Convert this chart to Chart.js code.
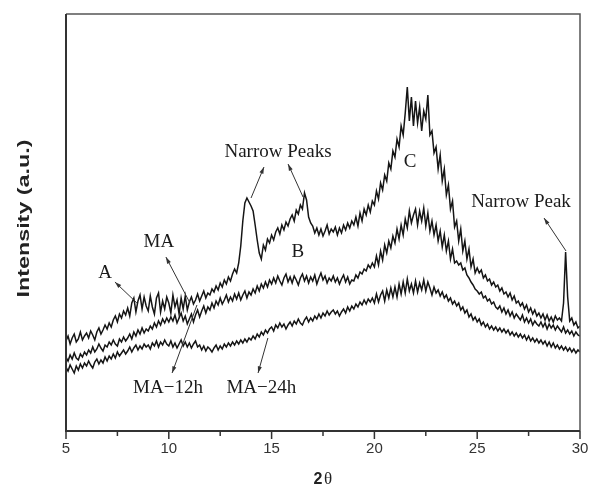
<!DOCTYPE html>
<html>
<head>
<meta charset="utf-8">
<script src="https://cdn.jsdelivr.net/npm/chart.js@4.4.0/dist/chart.umd.min.js"></script>
<style>
  body { margin: 0; background: #fff; }
  .chart-container { width: 590px; height: 489px; position: relative; }
</style>
</head>
<body>
<div class="chart-container"><canvas id="xrd-chart"></canvas></div>
<script>
// 2-theta sampling (5 to 30, step 0.1)
const thetaStart = 5;
const thetaStep = 0.1;

// Intensity (a.u.), one row per degree
const seriesTop = [
  90, 95, 87, 93, 97, 89, 92, 99, 91, 95,
  98, 93, 100, 96, 91, 99, 103, 97, 101, 106,
  102, 108, 104, 111, 115, 109, 117, 113, 120, 116,
  123, 115, 128, 133, 119, 130, 136, 122, 134, 125,
  120, 135, 124, 117, 133, 138, 119, 130, 122, 134,
  128, 118, 136, 124, 131, 117, 133, 122, 135, 121,
  129, 134, 127, 131, 137, 130, 135, 140, 133, 138,
  136, 142, 139, 145, 141, 148, 144, 151, 147, 154,
  150, 157, 162, 158, 168, 185, 210, 228, 233, 229,
  225, 220, 206, 191, 178, 172, 186, 181, 192, 188,
  196, 191, 199, 203, 197, 206, 201, 209, 205, 212,
  216, 210, 221, 217, 226, 222, 238, 231, 214, 208,
  205, 198, 203, 196, 202, 195, 200, 206, 197, 202,
  199, 204, 196, 203, 198, 206, 201, 208, 203, 210,
  206, 214, 205, 218, 210, 222, 216, 226, 219, 230,
  226, 240, 232, 248, 241, 256, 250, 268, 262, 280,
  274, 292, 284, 305, 296, 318, 344, 310, 334, 305,
  330, 308, 324, 300, 320, 312, 336, 296, 300, 278,
  284, 262, 276, 250, 262, 236, 246, 222, 230, 204,
  210, 190, 202, 180, 190, 172, 182, 164, 172, 158,
  163, 158, 161, 153, 156, 150, 152, 146, 149, 144,
  146, 140, 143, 137, 139, 134, 138, 131, 135, 128,
  130, 125, 128, 122, 126, 119, 123, 117, 121, 115,
  118, 113, 117, 111, 116, 110, 114, 109, 115, 111,
  113, 110, 128, 179, 134, 110, 113, 106, 109, 103,
  105
];

const seriesMid = [
  74, 70, 76, 72, 78, 73, 71, 77, 74, 79,
  76, 81, 78, 84, 79, 82, 87, 83, 80, 86,
  84, 89, 86, 91, 87, 85, 92, 89, 94, 90,
  93, 97, 92, 99, 95, 101, 97, 103, 98, 102,
  100, 105, 102, 108, 104, 110, 106, 112, 108, 113,
  109, 114, 110, 116, 108, 113, 118, 110, 115, 107,
  112, 117, 109, 116, 121, 114, 120, 125, 118, 124,
  121, 128, 123, 130, 126, 133, 127, 131, 136, 129,
  134, 130, 137, 132, 138, 131, 136, 140, 133, 139,
  136, 142, 138, 145, 140, 147, 143, 149, 144, 151,
  147, 153, 148, 155, 150, 146, 153, 157, 149, 154,
  148, 155, 151, 146, 153, 157, 150, 155, 148, 154,
  150, 156, 147, 153, 158, 151, 155, 148, 153, 150,
  155, 149, 153, 147, 152, 156, 149, 154, 147, 151,
  150, 156, 153, 159, 157, 162, 160, 166, 163, 168,
  164, 175, 166, 180, 171, 186, 178, 190, 183, 195,
  188, 202, 192, 206, 196, 212, 203, 220, 208, 216,
  222, 206, 220, 210, 223, 205, 218, 200, 210, 196,
  206, 190, 200, 184, 196, 180, 190, 172, 182, 168,
  170, 166, 168, 161, 163, 156, 153, 149, 146, 142,
  140, 137, 139, 133, 135, 130, 132, 127, 129, 124,
  122, 125, 119, 123, 117, 121, 115, 119, 113, 117,
  114, 111, 116, 109, 113, 108, 112, 106, 110, 107,
  105, 109, 104, 108, 102, 107, 103, 106, 101, 105,
  102, 99, 104, 98, 101, 97, 100, 95, 99, 96,
  95
];

const seriesLow = [
  64, 60, 66, 62, 58, 65, 61, 67, 63, 68,
  65, 70, 66, 63, 69, 72, 67, 71, 68, 74,
  70, 75, 72, 77, 73, 79, 75, 78, 81, 77,
  80, 84, 79, 83, 86, 81, 85, 82, 87, 84,
  86, 82, 88, 85, 90, 84, 89, 86, 91, 87,
  85, 90, 84, 88, 83, 87, 91, 85, 89, 84,
  88, 83, 87, 90, 84, 86, 81, 85, 80, 84,
  82, 79, 83, 86, 81, 85, 82, 87, 84, 88,
  85, 89, 86, 90, 87, 91, 88, 92, 89, 93,
  91, 95, 92, 97, 94, 99, 96, 101, 98, 102,
  104, 100, 106, 103, 108, 104, 107, 102, 106, 109,
  105, 110, 107, 112, 108, 106, 111, 114, 109, 113,
  110, 115, 112, 117, 113, 118, 115, 120, 116, 119,
  121, 117, 120, 115, 119, 122, 118, 124, 120, 125,
  122, 127, 124, 129, 126, 131, 127, 132, 129, 133,
  128, 137, 129, 136, 140, 130, 141, 133, 143, 134,
  144, 134, 147, 137, 149, 138, 152, 140, 147, 138,
  150, 139, 148, 141, 151, 140, 149, 143, 136, 144,
  138, 141, 135, 139, 133, 136, 130, 133, 127, 130,
  125, 128, 121, 124, 118, 121, 114, 117, 111, 114,
  109, 112, 106, 109, 104, 107, 102, 105, 101, 104,
  100, 103, 99, 102, 98, 101, 96, 99, 95, 98,
  94, 97, 93, 96, 91, 95, 90, 93, 89, 92,
  88, 91, 87, 90, 85, 89, 84, 88, 83, 86,
  82, 85, 81, 84, 80, 83, 79, 82, 78, 81,
  79
];

// x axis ticks
const majorTicks = [5, 10, 15, 20, 25, 30];
const minorTicks = [7.5, 12.5, 17.5, 22.5, 27.5];

// Text annotations (data units)
const noteTexts = ["Narrow Peaks", "C", "Narrow Peak", "B", "MA", "A", "MA\u221212h", "MA\u221224h"];
const noteX = [15.31, 21.73, 27.13, 16.28, 9.52, 6.9, 9.96, 14.5];
const noteY = [279, 269, 229, 179, 189, 158, 43, 43];

// Arrows: tail -> head (data units)
const arrowTail = [[14.0, 233], [16.53, 234], [29.32, 180], [8.45, 128], [11.03, 128], [11.37, 126], [14.82, 93]];
const arrowHead = [[14.63, 264], [15.8, 267], [28.25, 213], [7.38, 149], [9.86, 174], [10.16, 58], [14.34, 58]];

const theta = seriesTop.map((_, i) => +(thetaStart + i * thetaStep).toFixed(1));

function toPoints(values) {
  return values.map((v, i) => ({ x: theta[i], y: v }));
}

function lineDataset(label, values) {
  return {
    label: label,
    data: toPoints(values),
    borderColor: "#151515",
    borderWidth: 1.5,
    pointRadius: 0,
    tension: 0,
    fill: false,
  };
}

// Frame, ticks, titles and annotations
const decorPlugin = {
  id: "decor",
  afterDatasetsDraw(chart) {
    const ctx = chart.ctx;
    const xs = chart.scales.x;
    const ys = chart.scales.y;
    const area = chart.chartArea;

    ctx.save();
    // frame
    ctx.strokeStyle = "#555";
    ctx.lineWidth = 1.5;
    ctx.beginPath();
    ctx.moveTo(area.left, area.top);
    ctx.lineTo(area.right, area.top);
    ctx.lineTo(area.right, area.bottom);
    ctx.stroke();
    ctx.strokeStyle = "#333";
    ctx.lineWidth = 2;
    ctx.beginPath();
    ctx.moveTo(area.left, area.top);
    ctx.lineTo(area.left, area.bottom);
    ctx.lineTo(area.right, area.bottom);
    ctx.stroke();

    // x ticks
    ctx.lineWidth = 1.5;
    majorTicks.forEach((t) => {
      const px = xs.getPixelForValue(t);
      ctx.beginPath();
      ctx.moveTo(px, area.bottom);
      ctx.lineTo(px, area.bottom + 8);
      ctx.stroke();
    });
    minorTicks.forEach((t) => {
      const px = xs.getPixelForValue(t);
      ctx.beginPath();
      ctx.moveTo(px, area.bottom);
      ctx.lineTo(px, area.bottom + 5);
      ctx.stroke();
    });

    // axis titles
    ctx.fillStyle = "#222";
    ctx.textAlign = "center";
    ctx.textBaseline = "middle";
    ctx.font = 'bold 16px "Liberation Sans", Arial, sans-serif';
    const cx = (area.left + area.right) / 2;
    ctx.fillText("2", cx - 5, 480);
    ctx.font = '17px "Liberation Serif", serif';
    ctx.fillText("\u03b8", cx + 5, 480);

    ctx.save();
    ctx.translate(25, (area.top + area.bottom) / 2 - 4);
    ctx.rotate(-Math.PI / 2);
    ctx.font = 'bold 16px "Liberation Sans", Arial, sans-serif';
    const yTitle = "Intensity (a.u.)";
    const k = 158 / ctx.measureText(yTitle).width;
    ctx.scale(k, 1);
    ctx.fillText(yTitle, 0, 0);
    ctx.restore();

    // annotations
    ctx.font = '19px "Liberation Serif", "Times New Roman", serif';
    ctx.fillStyle = "#1a1a1a";
    noteTexts.forEach((t, i) => {
      ctx.fillText(t, xs.getPixelForValue(noteX[i]), ys.getPixelForValue(noteY[i]));
    });

    ctx.strokeStyle = "#333";
    ctx.fillStyle = "#333";
    ctx.lineWidth = 1;
    arrowTail.forEach((tail, i) => {
      const x0 = xs.getPixelForValue(tail[0]);
      const y0 = ys.getPixelForValue(tail[1]);
      const x1 = xs.getPixelForValue(arrowHead[i][0]);
      const y1 = ys.getPixelForValue(arrowHead[i][1]);
      ctx.beginPath();
      ctx.moveTo(x0, y0);
      ctx.lineTo(x1, y1);
      ctx.stroke();
      const a = Math.atan2(y1 - y0, x1 - x0);
      const len = 7;
      ctx.beginPath();
      ctx.moveTo(x1, y1);
      ctx.lineTo(x1 - len * Math.cos(a - 0.3), y1 - len * Math.sin(a - 0.3));
      ctx.lineTo(x1 - len * Math.cos(a + 0.3), y1 - len * Math.sin(a + 0.3));
      ctx.closePath();
      ctx.fill();
    });
    ctx.restore();
  },
};

const ctx = document.getElementById("xrd-chart").getContext("2d");
new Chart(ctx, {
  type: "line",
  data: {
    datasets: [
      lineDataset("C", seriesTop),
      lineDataset("B", seriesMid),
      lineDataset("A", seriesLow),
    ],
  },
  options: {
    responsive: true,
    maintainAspectRatio: false,
    animation: false,
    devicePixelRatio: 1,
    layout: { padding: { top: 14, right: 10, left: 0, bottom: 0 } },
    plugins: {
      legend: { display: false },
      tooltip: { enabled: false },
    },
    scales: {
      x: {
        type: "linear",
        min: 5,
        max: 30,
        grid: { display: false },
        border: { display: false },
        ticks: {
          stepSize: 5,
          padding: 1,
          color: "#333",
          maxRotation: 0,
          font: { family: '"Liberation Sans", Arial, sans-serif', size: 15 },
        },
        afterFit(scale) {
          scale.height = 58;
          scale.paddingLeft = 0;
          scale.paddingRight = 0;
        },
      },
      y: {
        type: "linear",
        min: 0,
        max: 417,
        grid: { display: false },
        border: { display: false },
        ticks: { display: false },
        afterFit(scale) {
          scale.width = 66;
        },
      },
    },
  },
  plugins: [decorPlugin],
});
</script>
</body>
</html>
